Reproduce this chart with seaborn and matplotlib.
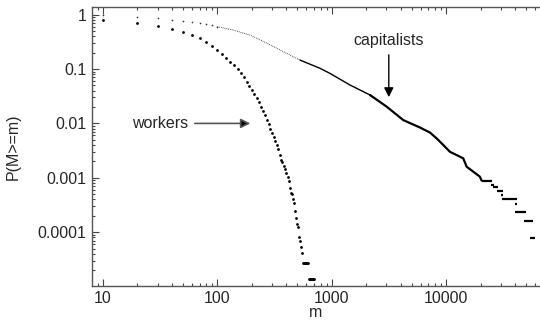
import numpy as np
import pandas as pd
import matplotlib
matplotlib.use("Agg")
import matplotlib.pyplot as plt
import seaborn as sns
from matplotlib.ticker import FixedLocator, LogLocator, NullFormatter

# workers: cumulative distribution
workers_m = [10, 20, 30, 40, 50, 60, 70, 80, 90, 100,
             110, 120, 130, 140, 150, 160, 170, 180, 190, 200,
             210, 220, 230, 240, 250, 260, 270, 280, 290, 300,
             310, 320, 330, 340, 350, 360, 370, 380, 390, 400,
             410, 420, 430, 440, 450, 460, 470, 480, 490, 500,
             510, 520, 530, 540, 550, 560, 570, 580, 590, 600,
             610, 620, 630, 640, 650, 660, 670, 680, 690, 700]
workers_p = [0.80, 0.69, 0.62, 0.54, 0.48, 0.42, 0.37, 0.32, 0.27, 0.223,
             0.189, 0.157, 0.136, 0.119, 0.100, 0.0843, 0.0703, 0.0570, 0.0486, 0.0411,
             0.0347, 0.0289, 0.0244, 0.0203, 0.0169, 0.0141, 0.0117, 0.00975, 0.0080, 0.00675,
             0.00555, 0.00471, 0.00393, 0.00334, 0.00262, 0.00212, 0.00193, 0.00167, 0.00143, 0.00124,
             0.00102, 0.00087, 0.00064, 0.00053, 0.00050, 0.00041, 0.00034, 0.00025, 0.00018, 0.00014,
             0.000126, 8.2e-5, 6.8e-5, 5.4e-5, 4.1e-5, 2.7e-5, 2.7e-5, 2.7e-5, 2.7e-5, 2.7e-5,
             2.7e-5, 2.7e-5, 1.4e-5, 1.4e-5, 1.4e-5, 1.4e-5, 1.4e-5, 1.4e-5, 1.4e-5, 1.4e-5]

# capitalists: sparse points at small m
cap_dots_m = [10, 20, 30, 40, 50, 60, 70, 80, 90, 100]
cap_dots_p = [0.97, 0.915, 0.855, 0.805, 0.773, 0.741, 0.71, 0.671, 0.635, 0.60]

# capitalists: dense part (looks like a line)
cap_line_m = [100, 138, 193, 270, 403, 527, 789, 965, 1442, 2158, 3020, 4220,
              5900, 7210, 8260, 9440, 10800, 12350, 14100, 15100, 17300, 19700, 20400]
cap_line_p = [0.60, 0.52, 0.42, 0.30, 0.194, 0.146, 0.103, 0.083, 0.0508, 0.0333, 0.0203, 0.0115,
              0.0084, 0.0068, 0.0053, 0.0040, 0.0030, 0.00262, 0.00228, 0.0016, 0.00129, 0.00105, 0.00089]

# capitalists: flat steps in the tail (from m, to m, level)
cap_tail_lo = [20400, 24500, 25800, 27600, 29900, 30900, 39900, 39900, 47900, 54000]
cap_tail_hi = [25000, 26200, 28500, 31600, 31600, 41300, 41900, 49800, 57000, 59700]
cap_tail_p = [8.85e-4, 7.5e-4, 6.7e-4, 5.7e-4, 4.9e-4, 4.07e-4, 3.26e-4, 2.38e-4, 1.61e-4, 7.9e-5]

x_ticks = [10, 100, 1000, 10000]
x_labels = ["10", "100", "1000", "10000"]
y_ticks = [1e-4, 1e-3, 1e-2, 1e-1, 1]
y_labels = ["0.0001", "0.001", "0.01", "0.1", "1"]

sns.set_style("ticks")
plt.rcParams["font.family"] = ["Liberation Sans", "DejaVu Sans"]
plt.rcParams["font.size"] = 11.5

fig = plt.figure(figsize=(5.4, 3.21), dpi=100)
ax = fig.add_axes([92 / 540, 1 - 285.7 / 321, 448 / 540, (285.7 - 7) / 321])
ax.set(xscale="log", yscale="log")

sns.scatterplot(x=workers_m, y=workers_p, ax=ax, s=4, color="black", linewidth=0)
sns.scatterplot(x=cap_dots_m, y=cap_dots_p, ax=ax, s=1.5, color="#333333", linewidth=0)

cap = pd.DataFrame({"m": cap_line_m, "p": cap_line_p})
thin = cap[cap.m <= 527]
mid = cap[(cap.m >= 527) & (cap.m <= 2158)]
thick = cap[cap.m >= 2158]
sns.lineplot(data=thin, x="m", y="p", ax=ax, color="#222222", lw=0.6,
             linestyle=(0, (1, 1.2)), estimator=None, sort=False)
sns.lineplot(data=mid, x="m", y="p", ax=ax, color="black", lw=1.0, estimator=None, sort=False)
sns.lineplot(data=thick, x="m", y="p", ax=ax, color="black", lw=1.6, estimator=None, sort=False)
ax.hlines(cap_tail_p, cap_tail_lo, cap_tail_hi, color="black", lw=1.6)

ax.set_xlim(8.01, 66100)
ax.set_ylim(1.04e-5, 1.38)

ax.xaxis.set_major_locator(FixedLocator(x_ticks))
ax.set_xticklabels(x_labels)
ax.yaxis.set_major_locator(FixedLocator(y_ticks))
ax.set_yticklabels(y_labels)
ax.xaxis.set_minor_locator(LogLocator(base=10, subs=np.arange(2, 10), numticks=20))
ax.yaxis.set_minor_locator(LogLocator(base=10, subs=np.arange(2, 10), numticks=20))
ax.xaxis.set_minor_formatter(NullFormatter())
ax.yaxis.set_minor_formatter(NullFormatter())

ax.tick_params(which="both", direction="in", top=True, right=False, color="#444444",
               width=0.8, labelsize=11.5)
ax.tick_params(which="major", length=5, pad=4)
ax.tick_params(which="minor", length=2.5)
for side in ["left", "bottom", "top"]:
    ax.spines[side].set_color("#555555")
    ax.spines[side].set_linewidth(1.0)
ax.spines["right"].set_visible(False)

ax.set_xlabel("m", labelpad=-1)
ax.set_ylabel("P(M>=m)")
ax.yaxis.set_label_coords(-0.158, 0.5)

ax.text(31.5, 0.01, "workers", ha="center", va="center")
ax.annotate("", xy=(205, 0.01), xytext=(60, 0.01),
            arrowprops=dict(arrowstyle="-|>", fc="black", ec="#555555", lw=1.2, mutation_scale=14))
ax.text(3120, 0.34, "capitalists", ha="center", va="center")
ax.annotate("", xy=(3150, 0.027), xytext=(3150, 0.205),
            arrowprops=dict(arrowstyle="-|>", color="black", lw=1.0, mutation_scale=14))

fig.savefig("out.png", dpi=100)
